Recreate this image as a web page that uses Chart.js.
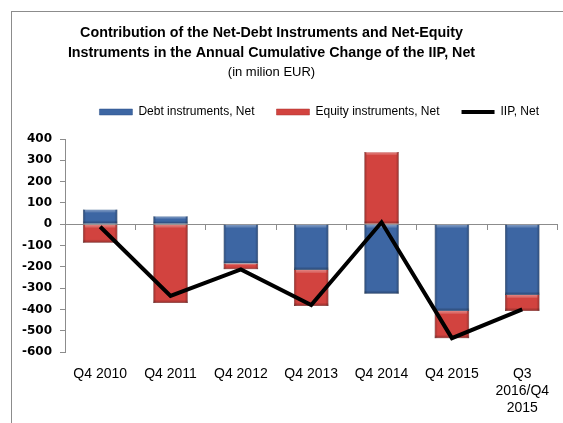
<!DOCTYPE html>
<html><head><meta charset="utf-8">
<script src="https://cdn.jsdelivr.net/npm/chart.js@4"></script>
<style>
html,body{margin:0;padding:0;background:#fff;}
#wrap{position:relative;width:563px;height:423px;overflow:hidden;background:#fff;}
#frame{position:absolute;left:11px;top:11px;width:700px;height:700px;border-top:1px solid #8c8c8c;border-left:1px solid #8c8c8c;pointer-events:none;}
canvas{position:absolute;left:0;top:0;}
</style></head><body>
<div id="wrap"><div id="frame"></div><canvas id="c" width="563" height="423"></canvas></div>
<script>
const categories = ['Q4 2010','Q4 2011','Q4 2012','Q4 2013','Q4 2014','Q4 2015',['Q3','2016/Q4','2015']];
const debtNet   = [69, 37, -184, -215, -326, -407, -332];
const equityNet = [-87, -370, -27, -169, 339, -128, -75];
const iipNet    = [-12, -337, -212, -379, 9, -535, -400];
const yTickValues = [400, 300, 200, 100, 0, -100, -200, -300, -400, -500, -600];
const titleLines = ['Contribution of the Net-Debt Instruments and Net-Equity','Instruments in the Annual Cumulative Change of the IIP, Net'];
const subtitleText = '(in milion EUR)';
const seriesNames = ['Debt instruments, Net','Equity instruments, Net','IIP, Net'];

const shiftTitles = {
  id: 'shiftTitles',
  afterLayout(chart) {
    chart.boxes.forEach(b => {
      if (b !== chart.legend && b.options && b.options.text !== undefined) { b.left -= 9; b.right -= 9; }
    });
  }
};

// bevel look for the bars, using the geometry the library computed for each bar
const bevel = {
  id: 'bevel',
  afterDatasetDraw(chart, args) {
    const meta = args.meta;
    if (meta.type !== 'bar') return;
    const ctx = chart.ctx;
    ctx.save();
    meta.data.forEach(el => {
      const p = el.getProps(['x', 'y', 'base', 'width'], true);
      const l = p.x - p.width / 2, r = p.x + p.width / 2;
      const t = Math.min(p.y, p.base), b = Math.max(p.y, p.base);
      const h = b - t;
      if (h < 1) return;
      const e = Math.min(3, h / 3);
      // sides darker
      let g = ctx.createLinearGradient(l, 0, r, 0);
      g.addColorStop(0, 'rgba(0,0,0,0.28)');
      g.addColorStop(0.09, 'rgba(0,0,0,0.0)');
      g.addColorStop(0.91, 'rgba(0,0,0,0.0)');
      g.addColorStop(1, 'rgba(0,0,0,0.28)');
      ctx.fillStyle = g;
      ctx.fillRect(l, t, r - l, h);
      // top highlight
      g = ctx.createLinearGradient(0, t, 0, t + e);
      g.addColorStop(0, 'rgba(255,255,255,0.35)');
      g.addColorStop(1, 'rgba(255,255,255,0.12)');
      ctx.fillStyle = g;
      ctx.fillRect(l + 2, t, r - l - 4, e);
      // bottom shade
      g = ctx.createLinearGradient(0, b - e, 0, b);
      g.addColorStop(0, 'rgba(0,0,0,0.05)');
      g.addColorStop(1, 'rgba(0,0,0,0.3)');
      ctx.fillStyle = g;
      ctx.fillRect(l, b - e, r - l, e);
    });
    ctx.restore();
  }
};

new Chart(document.getElementById('c'), {
  type: 'bar',
  data: {
    labels: categories,
    datasets: [
      { label: seriesNames[0], data: debtNet, backgroundColor: '#3d66a3', borderColor: '#2f5388', borderWidth: 0.5, stack: 'bars', pointStyle: 'rect' },
      { label: seriesNames[1], data: equityNet, backgroundColor: '#d2433f', borderColor: '#aa3431', borderWidth: 0.5, stack: 'bars', pointStyle: 'rect' },
      { type: 'line', label: seriesNames[2], data: iipNet, borderColor: '#000', backgroundColor: '#000', borderWidth: 4, pointRadius: 0, pointHoverRadius: 0, fill: false, tension: 0, stack: 'iip', order: -1, pointStyle: 'line' }
    ]
  },
  options: {
    responsive: false,
    animation: false,
    devicePixelRatio: 1,
    layout: { padding: { top: 0, left: 0, right: 2, bottom: 0 } },
    datasets: { bar: { categoryPercentage: 1, barPercentage: 0.49 } },
    plugins: {
      tooltip: { enabled: false },
      title: {
        display: true, text: titleLines, color: '#000',
        font: { family: 'Liberation Sans', weight: 'bold', size: 14.3, lineHeight: '20px' },
        padding: { top: 23, bottom: 0 }
      },
      subtitle: {
        display: true, text: subtitleText, color: '#000',
        font: { family: 'Liberation Sans', size: 13, lineHeight: '18px' },
        padding: { top: 0, bottom: 3 }
      },
      legend: {
        display: true, position: 'top', align: 'end',
        labels: {
          usePointStyle: true, pointStyleWidth: 33, boxHeight: 6, padding: 22,
          color: '#000', font: { family: 'Liberation Sans', size: 12 },
          sort: (a, b) => a.datasetIndex - b.datasetIndex
        }
      }
    },
    scales: {
      pad: {
        type: 'category', position: 'top', display: true,
        grid: { display: false, drawTicks: false }, border: { display: false }, ticks: { display: false },
        afterFit(s) { s.height = 11; }
      },
      x: {
        stacked: true, offset: true,
        grid: { display: false, drawTicks: false }, border: { display: false },
        ticks: { color: '#000', padding: 13.5, maxRotation: 0, autoSkip: false, font: { family: 'Liberation Sans', size: 14, lineHeight: '17px' } },
        afterFit(s) { s.height = 71; }
      },
      x2: {
        type: 'category', position: { y: 0 }, offset: true, z: 1,
        grid: { offset: true, drawOnChartArea: false, drawTicks: true, tickLength: 5, color: '#8c8c8c' },
        border: { display: true, color: '#8c8c8c' },
        ticks: { display: false }
      },
      y: {
        stacked: true, min: -600, max: 400,
        afterBuildTicks(s) { s.ticks = yTickValues.map(v => ({ value: v })); },
        grid: { drawOnChartArea: false, drawTicks: true, tickLength: 5, color: '#8c8c8c' },
        border: { display: true, color: '#8c8c8c' },
        ticks: { color: '#000', padding: 8, font: { family: 'DejaVu Sans', weight: 'bold', size: 12 } },
        afterFit(s) { s.width = 65; }
      }
    }
  },
  plugins: [shiftTitles, bevel]
});
</script>
</body></html>
